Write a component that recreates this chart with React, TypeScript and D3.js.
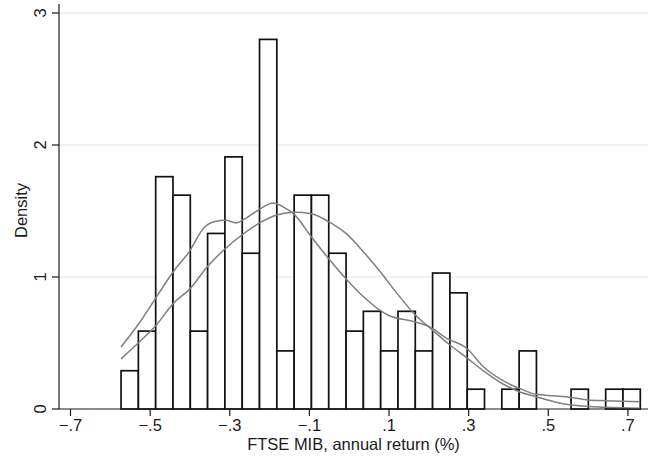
import React, { useEffect, useRef } from "react";
import * as d3 from "d3";

// histogram: 30 bins starting at binStart, each binWidth wide
const binStart = -0.573;
const binWidth = 0.04347;
const densities = [
  0.29, 0.59, 1.76, 1.62, 0.59, 1.33, 1.91, 1.18, 2.8, 0.44,
  1.62, 1.62, 1.18, 0.59, 0.74, 0.44, 0.74, 0.44, 1.03, 0.88,
  0.15, 0, 0.15, 0.44, 0, 0, 0.15, 0, 0.15, 0.15,
];

// kernel density estimate
const kernelX = [
  -0.573, -0.53, -0.486, -0.442, -0.4, -0.366, -0.337, -0.31, -0.285, -0.262,
  -0.232, -0.19, -0.165, -0.14, -0.094, -0.052, -0.006, 0.036, 0.098, 0.166,
  0.203, 0.245, 0.295, 0.337, 0.383, 0.427, 0.47, 0.514, 0.558, 0.6, 0.643, 0.731,
];
const kernelY = [
  0.47, 0.64, 0.84, 1.04, 1.2, 1.37, 1.42, 1.43, 1.41, 1.44,
  1.5, 1.56, 1.53, 1.48, 1.3, 1.14, 0.98, 0.85, 0.71, 0.66,
  0.62, 0.535, 0.46, 0.32, 0.22, 0.157, 0.111, 0.1, 0.088, 0.068, 0.063, 0.055,
];

// normal density
const normalX = [
  -0.573, -0.53, -0.486, -0.442, -0.4, -0.356, -0.313, -0.269, -0.225, -0.182,
  -0.138, -0.095, -0.052, -0.008, 0.036, 0.078, 0.12, 0.166, 0.209, 0.253,
  0.297, 0.34, 0.383, 0.427, 0.47, 0.514, 0.558, 0.643, 0.731,
];
const normalY = [
  0.38, 0.5, 0.63, 0.8, 0.91, 1.08, 1.21, 1.32, 1.41, 1.47,
  1.49, 1.48, 1.42, 1.33, 1.19, 1.04, 0.876, 0.712, 0.598, 0.485,
  0.384, 0.283, 0.195, 0.131, 0.093, 0.055, 0.03, 0.013, 0.005,
];

const xTicks = [-0.7, -0.5, -0.3, -0.1, 0.1, 0.3, 0.5, 0.7];
const yTicks = [0, 1, 2, 3];

export default function App() {
  const svgRef = useRef<SVGSVGElement>(null);

  useEffect(() => {
    const width = 650;
    const height = 457;
    const plotLeft = 59;
    const plotRight = 648;
    const plotTop = 4;

    const svg = d3.select(svgRef.current);
    svg.selectAll("*").remove();
    svg.attr("width", width).attr("height", height);

    const x = d3.scaleLinear().domain([-0.7, 0.7]).range([70.5, 627.9]);
    const y = d3.scaleLinear().domain([0, 3]).range([409, 13]);

    const font = "'Liberation Sans', Arial, sans-serif";
    const fontSize = 16.5;

    // grid lines
    svg.append("g")
      .selectAll("line")
      .data(yTicks.filter(t => t > 0))
      .enter()
      .append("line")
      .attr("x1", plotLeft)
      .attr("x2", plotRight)
      .attr("y1", d => y(d))
      .attr("y2", d => y(d))
      .attr("stroke", "#ececec")
      .attr("stroke-width", 1.5);

    // bars
    svg.append("g")
      .selectAll("rect")
      .data(densities.map((d, i) => ({ x0: binStart + i * binWidth, x1: binStart + (i + 1) * binWidth, d })))
      .enter()
      .filter(b => b.d > 0)
      .append("rect")
      .attr("x", b => x(b.x0))
      .attr("width", b => x(b.x1) - x(b.x0))
      .attr("y", b => y(b.d))
      .attr("height", b => y(0) - y(b.d))
      .attr("fill", "white")
      .attr("stroke", "#111")
      .attr("stroke-width", 1.7);

    // curves
    const line = d3.line<[number, number]>()
      .x(d => x(d[0]))
      .y(d => y(d[1]))
      .curve(d3.curveMonotoneX);

    const curves: [number, number][][] = [
      kernelX.map((v, i) => [v, kernelY[i]]),
      normalX.map((v, i) => [v, normalY[i]]),
    ];
    svg.append("g")
      .selectAll("path")
      .data(curves)
      .enter()
      .append("path")
      .attr("d", d => line(d))
      .attr("fill", "none")
      .attr("stroke", "#7f7f7f")
      .attr("stroke-width", 1.5);

    // y axis
    svg.append("line")
      .attr("x1", plotLeft).attr("x2", plotLeft)
      .attr("y1", plotTop).attr("y2", y(0))
      .attr("stroke", "#1a1a1a").attr("stroke-width", 1.2);

    const yAxis = svg.append("g");
    yAxis.selectAll("line")
      .data(yTicks)
      .enter()
      .append("line")
      .attr("x1", plotLeft - 7).attr("x2", plotLeft)
      .attr("y1", d => y(d)).attr("y2", d => y(d))
      .attr("stroke", "#1a1a1a").attr("stroke-width", 1.2);
    yAxis.selectAll("text")
      .data(yTicks)
      .enter()
      .append("text")
      .attr("transform", d => `translate(45.5, ${y(d)}) rotate(-90)`)
      .attr("text-anchor", "middle")
      .attr("font-family", font)
      .attr("font-size", fontSize)
      .attr("fill", "#1a1a1a")
      .text(d => String(d));

    svg.append("text")
      .attr("transform", `translate(27, ${(plotTop + y(0)) / 2 + 4}) rotate(-90)`)
      .attr("text-anchor", "middle")
      .attr("font-family", font)
      .attr("font-size", fontSize)
      .attr("fill", "#1a1a1a")
      .text("Density");

    // x axis
    svg.append("line")
      .attr("x1", plotLeft).attr("x2", plotRight)
      .attr("y1", y(0)).attr("y2", y(0))
      .attr("stroke", "#1a1a1a").attr("stroke-width", 1.2);

    const xAxis = svg.append("g");
    xAxis.selectAll("line")
      .data(xTicks)
      .enter()
      .append("line")
      .attr("x1", d => x(d)).attr("x2", d => x(d))
      .attr("y1", y(0)).attr("y2", y(0) + 7)
      .attr("stroke", "#1a1a1a").attr("stroke-width", 1.2);
    xAxis.selectAll("text")
      .data(xTicks)
      .enter()
      .append("text")
      .attr("x", d => x(d))
      .attr("y", 431)
      .attr("text-anchor", "middle")
      .attr("font-family", font)
      .attr("font-size", fontSize)
      .attr("fill", "#1a1a1a")
      .text(d => d3.format(".1f")(d).replace("0.", "."));

    svg.append("text")
      .attr("x", (plotLeft + plotRight) / 2)
      .attr("y", 450)
      .attr("text-anchor", "middle")
      .attr("font-family", font)
      .attr("font-size", fontSize)
      .attr("fill", "#1a1a1a")
      .text("FTSE MIB, annual return (%)");
  }, []);

  return (
    <div style={{ position: "absolute", left: 0, top: 0, background: "white" }}>
      <svg ref={svgRef}></svg>
    </div>
  );
}
